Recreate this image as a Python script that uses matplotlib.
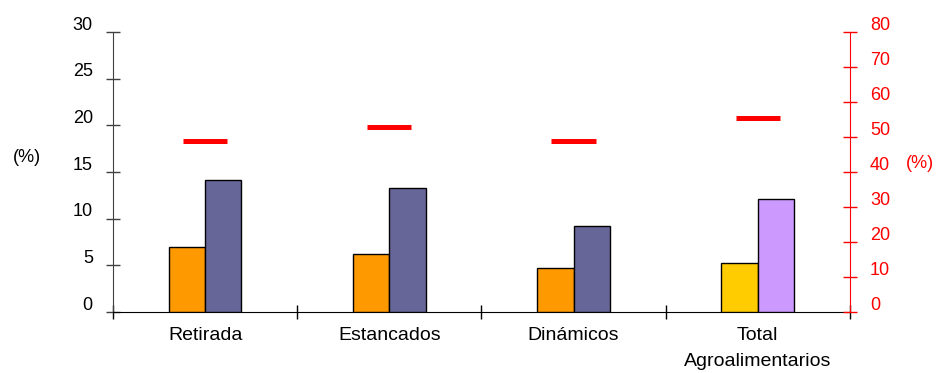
import numpy as np
import matplotlib
matplotlib.use('Agg')
import matplotlib.pyplot as plt
from matplotlib.transforms import ScaledTranslation

plt.rcParams['font.family'] = ['Liberation Sans', 'DejaVu Sans']

categories = ['Retirada', 'Estancados', 'Dinámicos', 'Total\nAgroalimentarios']
left_bars = [7.0, 6.25, 4.75, 5.2]
right_bars = [14.1, 13.25, 9.25, 12.1]
red_marks = [49, 53, 49, 55.5]
left_colors = ['#FF9900', '#FF9900', '#FF9900', '#FFCC00']
right_colors = ['#666699', '#666699', '#666699', '#CC99FF']
left_ticks = [0, 5, 10, 15, 20, 25, 30]
right_ticks = [0, 10, 20, 30, 40, 50, 60, 70, 80]

fig = plt.figure(figsize=(9.36, 3.73), dpi=100)
ax = fig.add_axes([0.1207, 0.1635, 0.908 - 0.1207, 0.914 - 0.1635])
ax2 = ax.twinx()

x = np.arange(len(categories))
w = 0.197
ax.bar(x - w / 2, left_bars, w, color=left_colors, edgecolor='black', linewidth=1, zorder=3)
ax.bar(x + w / 2, right_bars, w, color=right_colors, edgecolor='black', linewidth=1, zorder=3)
ax2.hlines(red_marks, x - 0.12, x + 0.12, color='#FF0000', linewidth=3.6)

ax.set_xlim(-0.5, len(categories) - 0.5)
ax.set_ylim(0, 30)
ax2.set_ylim(0, 80)

# boundaries as major ticks, labels on minor ticks
ax.set_xticks(np.arange(len(categories) + 1) - 0.5)
ax.set_xticklabels([])
ax.set_xticks(x, minor=True)
ax.set_xticklabels(categories, minor=True, fontsize=14, linespacing=1.68)
ax.tick_params(axis='x', which='major', direction='inout', length=10, width=1, color='black')
ax.tick_params(axis='x', which='minor', length=0, pad=11)

ax.set_yticks(left_ticks)
ax.tick_params(axis='y', direction='inout', length=10, width=1, color='#404040',
               labelsize=13, pad=9.5)
ax2.set_yticks(right_ticks)
ax2.tick_params(axis='y', direction='inout', length=10, width=1, color='#FF0000',
                labelcolor='#FF0000', labelsize=13, pad=9.5)

for a in (ax, ax2):
    for s in ('top', 'right', 'left'):
        a.spines[s].set_visible(False)
ax.spines['left'].set_visible(True)
ax.spines['left'].set_color('#404040')
ax.spines['bottom'].set_color('black')
ax2.spines['bottom'].set_visible(False)
ax2.spines['right'].set_visible(True)
ax2.spines['right'].set_color('#FF0000')

# tick labels sit a little above their tick marks
up = ScaledTranslation(0, 0.09, fig.dpi_scale_trans)
for lab in ax.get_yticklabels() + ax2.get_yticklabels():
    lab.set_transform(lab.get_transform() + up)

fig.text(13 / 936, 1 - 157 / 373, '(%)', fontsize=13, va='center', ha='left')
fig.text(906 / 936, 1 - 163 / 373, '(%)', fontsize=13, va='center', ha='left', color='#FF0000')

fig.savefig('out.png', dpi=100)
